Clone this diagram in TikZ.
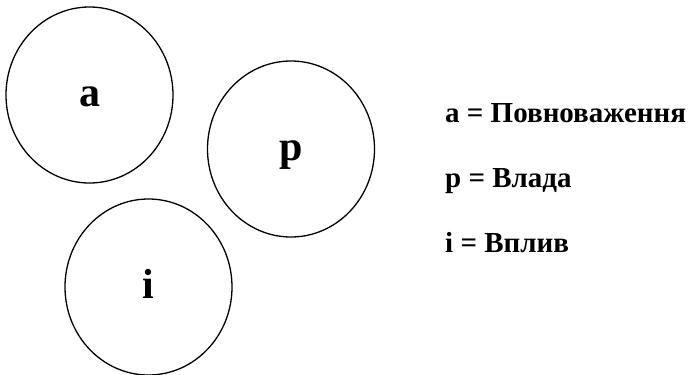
\documentclass[tikz,border=0pt]{standalone}
\usepackage{fontspec}
\setmainfont{Liberation Serif}
\usepackage{tikz}
\usetikzlibrary{positioning, shapes.geometric}

\begin{document}
\begin{tikzpicture}[
    x=1pt, y=-1pt,
    every node/.style={font=\bfseries},
    blob/.style={draw, ellipse, line width=1.3pt, inner sep=0pt,
        minimum width=167pt, minimum height=176pt,
        text height=22pt, text depth=0pt,
        font=\fontsize{42}{42}\selectfont\bfseries},
    key/.style={anchor=base west, inner sep=0pt,
        font=\fontsize{29}{29}\selectfont\bfseries}
]
\useasboundingbox (0,0) rectangle (694,375);

% Kreise
\node[blob] (a) at (89.5,95) {a};
\node[blob] (p) at (291,149) {p};
\node[blob] (i) at (148.5,287) {i};

% Legende
\node[key] (ka) at (445,122) {a = Повноваження};
\node[key, below=65pt of ka.base west, anchor=base west] (kp) {p = Влада};
\node[key, below=65pt of kp.base west, anchor=base west] (ki) {i = Вплив};

\end{tikzpicture}
\end{document}
